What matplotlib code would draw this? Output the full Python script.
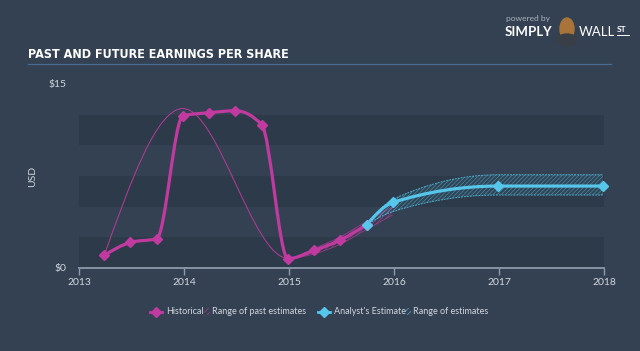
import numpy as np
import matplotlib
matplotlib.use("Agg")
import matplotlib.pyplot as plt
from matplotlib.path import Path
from matplotlib.patches import PathPatch, Rectangle, Ellipse
from matplotlib.lines import Line2D

# historical EPS (quarterly)
hist_x = [2013.24, 2013.49, 2013.74, 2013.99, 2014.24, 2014.49, 2014.74, 2014.99, 2015.24, 2015.49, 2015.74]
hist_y = [1.03, 2.09, 2.39, 12.41, 12.66, 12.82, 11.68, 0.76, 1.43, 2.28, 3.53]

# range of past estimates
past_x = [2013.24, 2013.99, 2014.99, 2015.24, 2015.49, 2015.74, 2015.99]
past_lo = [1.03, 13.0, 0.8, 1.15, 1.95, 3.15, 4.35]
past_hi = [1.03, 13.0, 0.8, 1.6, 2.55, 3.8, 5.0]

# analyst estimate
est_x = [2015.74, 2015.99, 2016.99, 2017.99]
est_y = [3.53, 5.35, 6.68, 6.68]
est_lo = [3.53, 4.6, 5.95, 5.95]
est_hi = [3.53, 5.6, 7.6, 7.6]

years = [2013, 2014, 2015, 2016, 2017, 2018]

BG = "#334152"
BAND = "#2d3a49"
MAG = "#c13a9f"
CYAN = "#56c6ea"
TXT = "#d2d7dd"
AXC = "#8d9aab"
FONT = ["Lato", "DejaVu Sans"]

plt.rcParams["hatch.linewidth"] = 0.5


def tangents(x, y):
    x = np.asarray(x, float)
    y = np.asarray(y, float)
    n = len(x)
    h = np.diff(x)
    s = np.diff(y) / h
    t = np.zeros(n)
    for i in range(1, n - 1):
        p = (s[i - 1] * h[i] + s[i] * h[i - 1]) / (h[i - 1] + h[i])
        t[i] = (np.sign(s[i - 1]) + np.sign(s[i])) * min(abs(s[i - 1]), abs(s[i]), 0.5 * abs(p))
    t[0] = (3 * s[0] - t[1]) / 2 if n > 2 else s[0]
    t[-1] = (3 * s[-1] - t[-2]) / 2 if n > 2 else s[-1]
    return t


def curve_verts(x, y):
    # monotone cubic as bezier control points
    t = tangents(x, y)
    v = [(x[0], y[0])]
    for i in range(len(x) - 1):
        dx = (x[i + 1] - x[i]) / 3
        v.append((x[i] + dx, y[i] + t[i] * dx))
        v.append((x[i + 1] - dx, y[i + 1] - t[i + 1] * dx))
        v.append((x[i + 1], y[i + 1]))
    return v


def curve_path(x, y):
    v = curve_verts(x, y)
    codes = [Path.MOVETO] + [Path.CURVE4] * (len(v) - 1)
    return Path(v, codes)


def band_path(x, lo, hi):
    up = curve_verts(x, hi)
    dn = curve_verts(x, lo)[::-1]
    v = up + dn + [up[0]]
    codes = ([Path.MOVETO] + [Path.CURVE4] * (len(up) - 1)
             + [Path.LINETO] + [Path.CURVE4] * (len(dn) - 1) + [Path.CLOSEPOLY])
    return Path(v, codes)


fig = plt.figure(figsize=(6.4, 3.51), dpi=100, facecolor=BG)
ax = fig.add_axes([79 / 640, 1 - 268 / 351, 525 / 640, 184 / 351])
ax.set_facecolor("none")
ax.set_xlim(2013, 2018)
ax.set_ylim(0, 15)

for y0 in [0, 5, 10]:
    ax.axhspan(y0, y0 + 2.5, color=BAND, lw=0, zorder=0)

# past estimates range
ax.add_patch(PathPatch(band_path(past_x, past_lo, past_hi), facecolor="none",
                       edgecolor=MAG, hatch="////////", lw=0, alpha=0.7, zorder=2))
for arr in (past_lo, past_hi):
    ax.add_patch(PathPatch(curve_path(past_x, arr), facecolor="none",
                           edgecolor=MAG, lw=0.6, alpha=0.7, zorder=2))

# analyst range
ax.add_patch(PathPatch(band_path(est_x, est_lo, est_hi), facecolor=CYAN, alpha=0.08,
                       lw=0, zorder=2))
ax.add_patch(PathPatch(band_path(est_x, est_lo, est_hi), facecolor="none",
                       edgecolor=CYAN, hatch="////////", lw=0, alpha=0.55, zorder=2))
for arr in (est_lo, est_hi):
    ax.add_patch(PathPatch(curve_path(est_x, arr), facecolor="none",
                           edgecolor=CYAN, lw=0.7, ls=(0, (2, 1)), alpha=0.8, zorder=2))

# historical
ax.add_patch(PathPatch(curve_path(hist_x, hist_y), facecolor="none",
                       edgecolor=MAG, lw=2.3, zorder=3, capstyle="round"))
ax.plot(hist_x, hist_y, ls="none", marker="D", ms=5, color=MAG, zorder=4)

# estimate
ax.add_patch(PathPatch(curve_path(est_x, est_y), facecolor="none",
                       edgecolor=CYAN, lw=2.3, zorder=3, capstyle="round"))
ax.plot(est_x, est_y, ls="none", marker="D", ms=5, color=CYAN, zorder=5, clip_on=False)

for side in ["top", "right", "left"]:
    ax.spines[side].set_visible(False)
ax.spines["bottom"].set_color(AXC)
ax.spines["bottom"].set_linewidth(1.3)
ax.set_xticks(years)
ax.set_xticklabels([str(y) for y in years])
ax.set_yticks([0, 15])
ax.set_yticklabels(["$0", "$15"])
ax.tick_params(axis="x", colors=AXC, length=5, width=1, labelcolor=TXT, labelsize=7.5, pad=2)
ax.tick_params(axis="y", length=0, labelcolor=TXT, labelsize=7.5, pad=9)
ax.set_ylabel("USD", color=TXT, fontsize=7.5, labelpad=8)
for lab in ax.get_xticklabels() + ax.get_yticklabels():
    lab.set_family(FONT)
ax.yaxis.label.set_family(FONT)

# title and rule
fig.text(28 / 640, 1 - 54 / 351, "PAST AND FUTURE EARNINGS PER SHARE", color="white",
         fontsize=9, fontweight="bold", fontstretch="condensed", family="DejaVu Sans",
         va="center", ha="left")
fig.add_artist(Line2D([28 / 640, 611 / 640], [1 - 64 / 351] * 2, color="#4a6a90", lw=0.9))

# logo
fig.text(506 / 640, 1 - 18 / 351, "powered by", color="#aab3bd", fontsize=6,
         family=FONT, va="center")
fig.text(505 / 640, 1 - 32 / 351, "SIMPLY", color="white", fontsize=9.5, fontweight="bold",
         family=FONT, va="center")
fig.add_artist(Ellipse((567 / 640, 1 - 29 / 351), 14 / 640, 22 / 351, transform=fig.transFigure,
                       color="#a8743a", zorder=5))
fig.add_artist(Ellipse((567 / 640, 1 - 40 / 351), 20 / 640, 12 / 351, transform=fig.transFigure,
                       color="#3a3f47", zorder=5))
fig.text(579 / 640, 1 - 32 / 351, "WALL", color="white", fontsize=9.5,
         family=FONT, va="center")
fig.text(617 / 640, 1 - 30 / 351, "ST", color="white", fontsize=6, fontweight="bold",
         family=FONT, va="center")
fig.add_artist(Line2D([617 / 640, 629 / 640], [1 - 35 / 351] * 2, color="white", lw=0.7))

# legend
ly = 1 - 311.5 / 351
lfont = dict(color=TXT, fontsize=6.5, family=FONT, va="center", ha="left")


def legend_item(x0, color, label, hx, rlabel):
    fig.add_artist(Line2D([x0 / 640, (x0 + 12) / 640], [ly, ly], color=color, lw=2,
                          transform=fig.transFigure))
    fig.add_artist(Line2D([(x0 + 6) / 640], [ly], color=color, marker="D", ms=5,
                          transform=fig.transFigure))
    fig.text((x0 + 16) / 640, ly, label, **lfont)
    fig.add_artist(Rectangle((hx / 640, ly - 3.5 / 351), 6 / 640, 7 / 351, transform=fig.transFigure,
                             facecolor="none", edgecolor=color, hatch="//////", lw=0, alpha=0.8))
    fig.text((hx + 8) / 640, ly, rlabel, **lfont)


legend_item(150, MAG, "Historical", 204, "Range of past estimates")
legend_item(318, CYAN, "Analyst's Estimate", 405, "Range of estimates")

fig.savefig("out.png", dpi=100, facecolor=BG)
